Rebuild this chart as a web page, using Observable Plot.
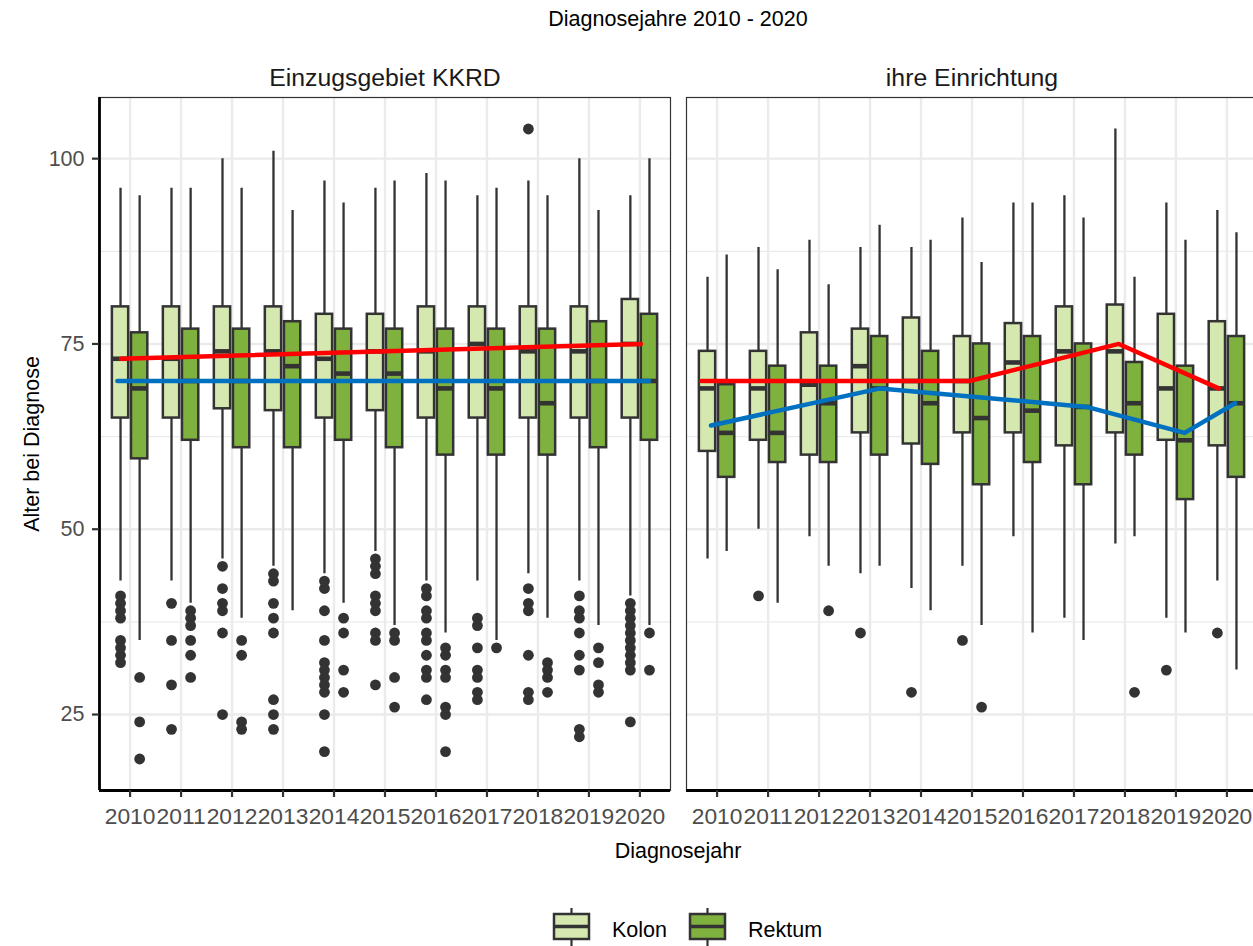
<!DOCTYPE html>
<html>
<head>
<meta charset="utf-8">
<script src="https://cdn.jsdelivr.net/npm/d3@7"></script>
<script src="https://cdn.jsdelivr.net/npm/@observablehq/plot@0.6"></script>
<style>
  body { margin: 0; background: #fff; }
  #wrap { position: relative; width: 1253px; height: 946px; overflow: hidden;
          font-family: "Liberation Sans", Arial, sans-serif; color: #000; }
  .t { position: absolute; left: 99px; width: 1158px; text-align: center;
       font-size: 21.5px; line-height: 24px; white-space: nowrap; }
  #chart { position: absolute; left: 0; top: 36px; }
  #legend { position: absolute; left: 0; top: 900px; }
</style>
</head>
<body>
<div id="wrap">
  <div class="t" style="top:7px">Diagnosejahre 2010 - 2020</div>
  <div id="chart"></div>
  <div class="t" style="top:839px">Diagnosejahr</div>
  <svg id="legend" width="1253" height="46"></svg>
</div>
<script>
// Age at diagnosis by year, colon vs. rectum, region vs. own facility
const years = [2010, 2011, 2012, 2013, 2014, 2015, 2016, 2017, 2018, 2019, 2020];
const panels = ["Einzugsgebiet KKRD", "ihre Einrichtung"];
const groups = ["Kolon", "Rektum"];
const yTicks = [25, 50, 75, 100];

// Einzugsgebiet KKRD – Kolon
const kkrdKolonMax = [96, 96, 100, 101, 97, 96, 98, 95, 97, 100, 95];
const kkrdKolonQ3  = [80, 80, 80, 80, 79, 79, 80, 80, 80, 80, 81];
const kkrdKolonMed = [73, 73, 74, 74, 73, 74, 74, 75, 74, 74, 75];
const kkrdKolonQ1  = [65, 65, 66.25, 66, 65, 66, 65, 65, 65, 65, 65];
const kkrdKolonMin = [43, 43, 46, 45, 44, 47, 43, 43, 44, 43, 41];
const kkrdKolonOut = [
  [41, 40, 39, 38, 35, 34, 33, 32],
  [40, 35, 29, 23],
  [45, 42, 40, 39, 36, 25],
  [44, 43, 40, 38, 36, 27, 25, 23],
  [43, 42, 39, 35, 32, 31, 30, 29, 28, 25, 20],
  [46, 45, 44, 41, 40, 39, 36, 35, 29],
  [42, 41, 39, 38, 36, 35, 33, 31, 30, 27],
  [38, 37, 34, 31, 30, 28, 27],
  [104, 42, 40, 39, 33, 28, 27],
  [41, 39, 38, 36, 33, 31, 23, 22],
  [40, 39, 38, 37, 36, 35, 34, 33, 32, 31, 24]
];

// Einzugsgebiet KKRD – Rektum
const kkrdRektumMax = [95, 96, 96, 93, 94, 97, 97, 96, 95, 93, 100];
const kkrdRektumQ3  = [76.5, 77, 77, 78, 77, 77, 77, 77, 77, 78, 79];
const kkrdRektumMed = [69, 70, 70, 72, 71, 71, 69, 69, 67, 70, 70];
const kkrdRektumQ1  = [59.5, 62, 61, 61, 62, 61, 60, 60, 60, 61, 62];
const kkrdRektumMin = [35, 40, 38, 39, 40, 37, 36, 35, 38, 37, 37];
const kkrdRektumOut = [
  [30, 24, 19],
  [39, 38, 37, 35, 33, 30],
  [35, 33, 24, 23],
  [],
  [38, 36, 31, 28],
  [36, 35, 30, 26],
  [34, 33, 31, 30, 26, 25, 20],
  [34],
  [32, 31, 30, 28],
  [34, 32, 29, 28],
  [36, 31]
];

// ihre Einrichtung – Kolon
const einrKolonMax = [84, 88, 89, 88, 88, 92, 94, 95, 104, 94, 93];
const einrKolonQ3  = [74, 74, 76.5, 77, 78.5, 76, 77.75, 80, 80.25, 79, 78];
const einrKolonMed = [69, 69, 69.5, 72, 70, 70, 72.5, 74, 74, 69, 69];
const einrKolonQ1  = [60.5, 62, 60, 63, 61.5, 63, 63, 61.25, 63, 62, 61.25];
const einrKolonMin = [46, 50, 49, 44, 42, 45, 49, 38, 48, 38, 43];
const einrKolonOut = [[], [41], [], [36], [28], [35], [], [], [], [31], [36]];

// ihre Einrichtung – Rektum
const einrRektumMax = [87, 85, 83, 91, 89, 86, 94, 92, 84, 89, 90];
const einrRektumQ3  = [69.5, 72, 72, 76, 74, 75, 76, 75, 72.5, 72, 76];
const einrRektumMed = [63, 63, 67, 69, 67, 65, 66, 66.5, 67, 62, 67];
const einrRektumQ1  = [57, 59, 59, 60, 58.75, 56, 59, 56, 60, 54, 57];
const einrRektumMin = [47, 40, 45, 45, 39, 37, 36, 35, 49, 36, 31];
const einrRektumOut = [[], [], [39], [], [], [26], [], [], [28], [], []];

// Trend lines (jittered year, age)
const kkrdKolonTrendYear  = [2009.82, 2020.02];
const kkrdKolonTrend      = [73, 75];
const kkrdRektumTrendYear = [2009.75, 2020.18];
const kkrdRektumTrend     = [70, 70];
const einrKolonTrendYear  = [2009.69, 2014.95, 2017.88, 2019.84];
const einrKolonTrend      = [70, 70, 75, 69];
const einrRektumTrendYear = [2009.88, 2013.2, 2017.25, 2019.17, 2020.16];
const einrRektumTrend     = [64, 69, 66.5, 63, 67];

// ---- tables built from the arrays above ----
const series = [
  {panel: panels[0], group: "Kolon",  max: kkrdKolonMax,  q3: kkrdKolonQ3,  med: kkrdKolonMed,  q1: kkrdKolonQ1,  min: kkrdKolonMin,  out: kkrdKolonOut},
  {panel: panels[0], group: "Rektum", max: kkrdRektumMax, q3: kkrdRektumQ3, med: kkrdRektumMed, q1: kkrdRektumQ1, min: kkrdRektumMin, out: kkrdRektumOut},
  {panel: panels[1], group: "Kolon",  max: einrKolonMax,  q3: einrKolonQ3,  med: einrKolonMed,  q1: einrKolonQ1,  min: einrKolonMin,  out: einrKolonOut},
  {panel: panels[1], group: "Rektum", max: einrRektumMax, q3: einrRektumQ3, med: einrRektumMed, q1: einrRektumQ1, min: einrRektumMin, out: einrRektumOut}
];
const boxes = series.flatMap(s => years.map((year, i) => ({
  panel: s.panel, group: s.group, year,
  max: s.max[i], q3: s.q3[i], med: s.med[i], q1: s.q1[i], min: s.min[i]
})));
const outliers = series.flatMap(s => years.flatMap((year, i) =>
  s.out[i].map(value => ({panel: s.panel, group: s.group, year, value}))));

const trendSets = [
  {panel: panels[0], group: "Kolon",  x: kkrdKolonTrendYear,  y: kkrdKolonTrend},
  {panel: panels[0], group: "Rektum", x: kkrdRektumTrendYear, y: kkrdRektumTrend},
  {panel: panels[1], group: "Kolon",  x: einrKolonTrendYear,  y: einrKolonTrend},
  {panel: panels[1], group: "Rektum", x: einrRektumTrendYear, y: einrRektumTrend}
];
const trends = trendSets.flatMap(t => t.x.map((year, i) => ({panel: t.panel, group: t.group, year, value: t.y[i]})));

// ---- scales: ggplot-style expansion ----
const allValues = boxes.flatMap(d => [d.min, d.max]).concat(outliers.map(d => d.value));
const vLo = d3.min(allValues), vHi = d3.max(allValues);
const yPad = 0.05 * (vHi - vLo);
const yDomain = [vLo - yPad, vHi + yPad];
const xDomain = [years[0] - 0.6, years[years.length - 1] + 0.6];
const minorTicks = yTicks.slice(0, -1).map(t => t + 12.5);

const dodge = {Kolon: -0.1875, Rektum: 0.1875};
const halfWidth = 0.16;
const pos = d => d.year + dodge[d.group];
const fillColors = ["#d4e8b0", "#7eb13e"];
const ink = "#333333";
const fontStack = "'Liberation Sans', Arial, sans-serif";

const chart = Plot.plot({
  width: 1253,
  height: 834,
  marginLeft: 99,
  marginRight: -4,
  marginTop: 61,
  marginBottom: 80,
  style: {fontFamily: fontStack, background: "transparent", overflow: "visible"},
  fx: {domain: panels, paddingInner: 16 / 587, paddingOuter: 0, round: false, axis: null, label: null},
  x: {domain: xDomain, axis: null},
  y: {domain: yDomain, axis: null},
  color: {domain: groups, range: fillColors},
  marks: [
    Plot.gridY({ticks: minorTicks, stroke: "#ebebeb", strokeOpacity: 1, strokeWidth: 1.3}),
    Plot.gridY({ticks: yTicks, stroke: "#ebebeb", strokeOpacity: 1, strokeWidth: 2.4}),
    Plot.gridX({ticks: years, stroke: "#ebebeb", strokeOpacity: 1, strokeWidth: 2.4}),
    Plot.frame({stroke: ink, strokeWidth: 1.2}),
    // whiskers
    Plot.ruleX(boxes, {fx: "panel", x: pos, y1: "min", y2: "max", stroke: ink, strokeWidth: 2.3}),
    // boxes
    Plot.rect(boxes, {fx: "panel", x1: d => pos(d) - halfWidth, x2: d => pos(d) + halfWidth,
                      y1: "q1", y2: "q3", fill: "group", stroke: ink, strokeWidth: 2.5}),
    // medians
    Plot.ruleY(boxes, {fx: "panel", y: "med", x1: d => pos(d) - halfWidth, x2: d => pos(d) + halfWidth,
                       stroke: ink, strokeWidth: 4.6}),
    // outliers
    Plot.dot(outliers, {fx: "panel", x: pos, y: "value", r: 5.4, fill: ink}),
    // trend lines
    Plot.line(trends.filter(d => d.group === "Rektum"), {fx: "panel", x: "year", y: "value",
              stroke: "#0070c0", strokeWidth: 4.5}),
    Plot.line(trends.filter(d => d.group === "Kolon"), {fx: "panel", x: "year", y: "value",
              stroke: "#ff0000", strokeWidth: 4.5}),
    // axis lines
    Plot.ruleY([yDomain[0]], {stroke: "#000", strokeWidth: 2.8}),
    Plot.ruleX([xDomain[0]], {fx: () => panels[0], stroke: "#000", strokeWidth: 2.8}),
    // axes
    Plot.axisY({ticks: yTicks, tickSize: 7, tickPadding: 8, stroke: ink, strokeWidth: 2.2,
                fill: "#4d4d4d", fontSize: 21.5, label: null}),
    Plot.axisX({ticks: years, tickFormat: d => String(d), tickSize: 7, tickPadding: 10,
                stroke: ink, strokeWidth: 2.2, fill: "#4d4d4d", fontSize: 22.8, label: null}),
    // facet strip labels
    Plot.text(panels, {fx: d => d, text: d => d, frameAnchor: "top", lineAnchor: "bottom",
                       dy: -12, fontSize: 24.8, fill: "#1a1a1a"}),
    // y axis title
    Plot.text([{panel: panels[0], label: "Alter bei Diagnose"}],
              {fx: "panel", text: "label", frameAnchor: "left", textAnchor: "middle",
               dx: -67, rotate: -90, fontSize: 21.5, fill: "#000"})
  ]
});
document.getElementById("chart").append(chart);

// ---- legend with boxplot keys ----
const legend = d3.select("#legend");
let lx = 554;
groups.forEach((g, i) => {
  const k = legend.append("g");
  k.append("line").attr("x1", lx + 17.5).attr("x2", lx + 17.5).attr("y1", 8).attr("y2", 46)
    .attr("stroke", ink).attr("stroke-width", 2.2);
  k.append("rect").attr("x", lx).attr("y", 14).attr("width", 35).attr("height", 25)
    .attr("fill", fillColors[i]).attr("stroke", ink).attr("stroke-width", 2.5);
  k.append("line").attr("x1", lx).attr("x2", lx + 35).attr("y1", 26.5).attr("y2", 26.5)
    .attr("stroke", ink).attr("stroke-width", 3.5);
  const t = k.append("text").attr("x", lx + 58).attr("y", 36.5)
    .attr("font-family", fontStack).attr("font-size", 21.5).attr("fill", "#000").text(g);
  lx += 58 + t.node().getComputedTextLength() + 23;
});
</script>
</body>
</html>
